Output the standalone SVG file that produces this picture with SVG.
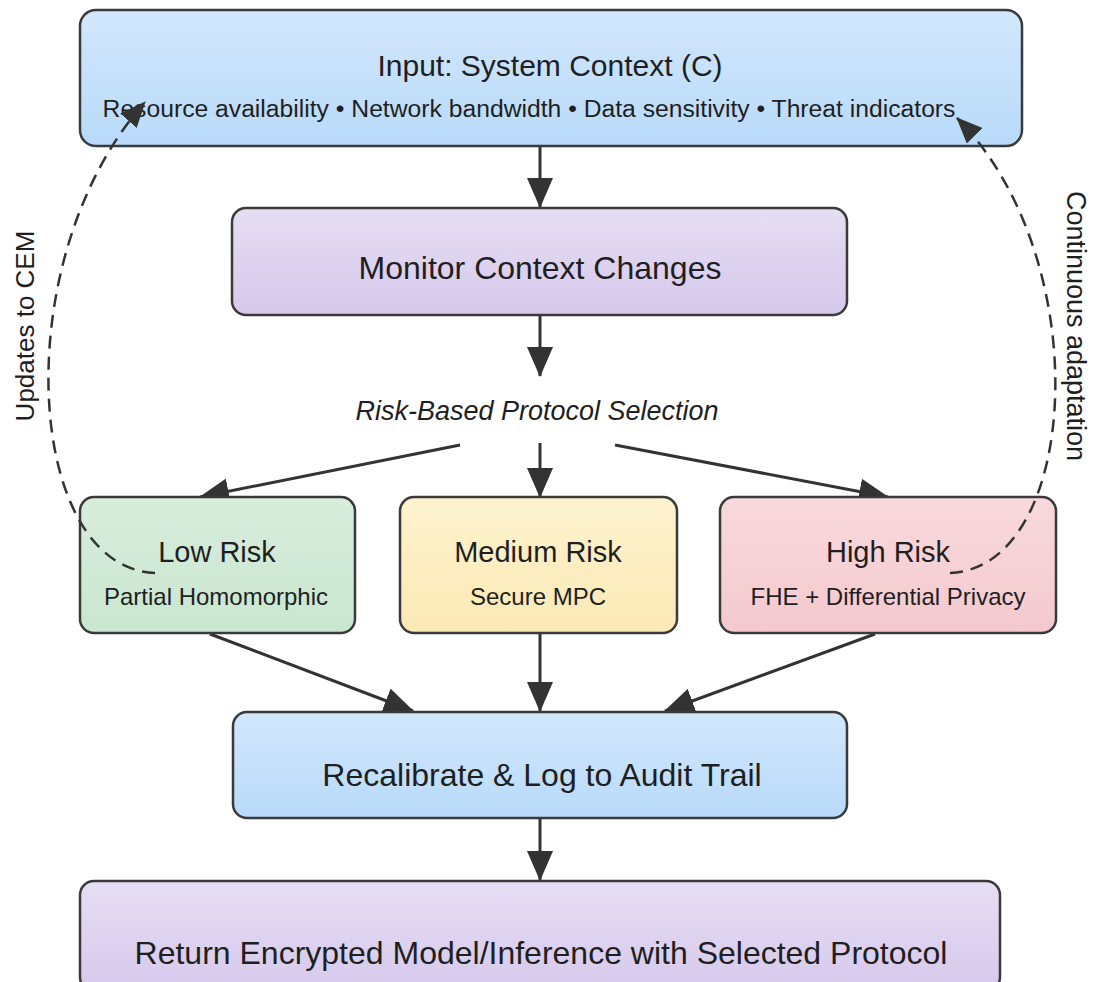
<svg xmlns="http://www.w3.org/2000/svg" width="1094" height="982" viewBox="0 0 1094 982">
<defs>
<linearGradient id="gBlue" x1="0" y1="0" x2="0" y2="1"><stop offset="0" stop-color="#d2e7fc"/><stop offset="1" stop-color="#b8dafa"/></linearGradient>
<linearGradient id="gPurple" x1="0" y1="0" x2="0" y2="1"><stop offset="0" stop-color="#e6def3"/><stop offset="1" stop-color="#d6c8ec"/></linearGradient>
<linearGradient id="gGreen" x1="0" y1="0" x2="0" y2="1"><stop offset="0" stop-color="#d8eddc"/><stop offset="1" stop-color="#c9e6d0"/></linearGradient>
<linearGradient id="gYellow" x1="0" y1="0" x2="0" y2="1"><stop offset="0" stop-color="#fdf3cf"/><stop offset="1" stop-color="#fbe9b5"/></linearGradient>
<linearGradient id="gPink" x1="0" y1="0" x2="0" y2="1"><stop offset="0" stop-color="#f8d9dc"/><stop offset="1" stop-color="#f4c9ce"/></linearGradient>
<marker id="arr" markerUnits="userSpaceOnUse" markerWidth="30" markerHeight="26" refX="29" refY="13" orient="auto"><path d="M0,0 L30,13 L0,26 Z" fill="#333"/></marker>
<marker id="arrD" markerUnits="userSpaceOnUse" markerWidth="26" markerHeight="22" refX="25" refY="11" orient="auto"><path d="M0,0 L26,11 L0,22 Z" fill="#333"/></marker>
</defs>
<style>
.box{stroke:#3a3a3a;stroke-width:2.5}
.t{font-family:"Liberation Sans",Arial,sans-serif;fill:#1f1f1f;text-anchor:middle}
.big{font-size:32px}
.mid{font-size:29px}
.sub{font-size:24px}
.c{stroke:#333;stroke-width:3;fill:none}
.d{stroke:#333;stroke-width:2.5;fill:none;stroke-dasharray:13 8}
</style>
<rect width="1094" height="982" fill="#ffffff"/>
<g id="connectors">
<line class="c" x1="540" y1="146" x2="540" y2="207" marker-end="url(#arr)"/>
<line class="c" x1="540" y1="316" x2="540" y2="376" marker-end="url(#arr)"/>
<line class="c" x1="460" y1="445" x2="200" y2="497" marker-end="url(#arr)"/>
<line class="c" x1="540" y1="443" x2="540" y2="497" marker-end="url(#arr)"/>
<line class="c" x1="615" y1="445" x2="888" y2="497" marker-end="url(#arr)"/>
<line class="c" x1="210" y1="634" x2="413" y2="711" marker-end="url(#arr)"/>
<line class="c" x1="540" y1="634" x2="540" y2="711" marker-end="url(#arr)"/>
<line class="c" x1="875" y1="634" x2="665" y2="711" marker-end="url(#arr)"/>
<line class="c" x1="540" y1="819" x2="540" y2="880" marker-end="url(#arr)"/>
</g>
<g id="n_input"><rect class="box" x="80" y="10" width="942" height="136" rx="16" fill="url(#gBlue)"/>
<text class="t" x="550" y="76" style="font-size:30px">Input: System Context (C)</text>
<text class="t" x="529" y="117" style="font-size:24.7px">Resource availability • Network bandwidth • Data sensitivity • Threat indicators</text></g>
<g id="n_monitor"><rect class="box" x="232" y="208" width="615" height="107" rx="14" fill="url(#gPurple)"/>
<text class="t big" x="540" y="279">Monitor Context Changes</text></g>
<g id="n_select"><text class="t" x="537" y="420" style="font-size:27px;font-style:italic">Risk-Based Protocol Selection</text></g>
<g id="n_low"><rect class="box" x="80" y="497" width="275" height="136" rx="14" fill="url(#gGreen)"/>
<text class="t mid" x="217" y="562">Low Risk</text>
<text class="t sub" x="216" y="605">Partial Homomorphic</text></g>
<g id="n_medium"><rect class="box" x="400" y="497" width="277" height="136" rx="14" fill="url(#gYellow)"/>
<text class="t mid" x="538" y="562">Medium Risk</text>
<text class="t sub" x="538" y="605">Secure MPC</text></g>
<g id="n_high"><rect class="box" x="720" y="497" width="336" height="136" rx="14" fill="url(#gPink)"/>
<text class="t mid" x="888" y="562">High Risk</text>
<text class="t sub" x="888" y="605">FHE + Differential Privacy</text></g>
<g id="n_recal"><rect class="box" x="233" y="712" width="614" height="106" rx="14" fill="url(#gBlue)"/>
<text class="t big" x="542" y="786">Recalibrate &amp; Log to Audit Trail</text></g>
<g id="n_return"><rect class="box" x="80" y="881" width="920" height="110" rx="14" fill="url(#gPurple)"/>
<text class="t big" x="541" y="964">Return Encrypted Model/Inference with Selected Protocol</text></g>
<g id="feedback">
<path class="d" d="M155,573 C25,568 5,260 145,102" marker-end="url(#arrD)"/>
<path class="d" d="M950,573 C1080,568 1098,260 957,118" marker-end="url(#arrD)"/>
<text class="t" x="0" y="0" transform="translate(34,326) rotate(-90)" style="font-size:26px">Updates to CEM</text>
<text class="t" x="0" y="0" transform="translate(1067,326) rotate(90)" style="font-size:27px">Continuous adaptation</text>
</g>
</svg>
